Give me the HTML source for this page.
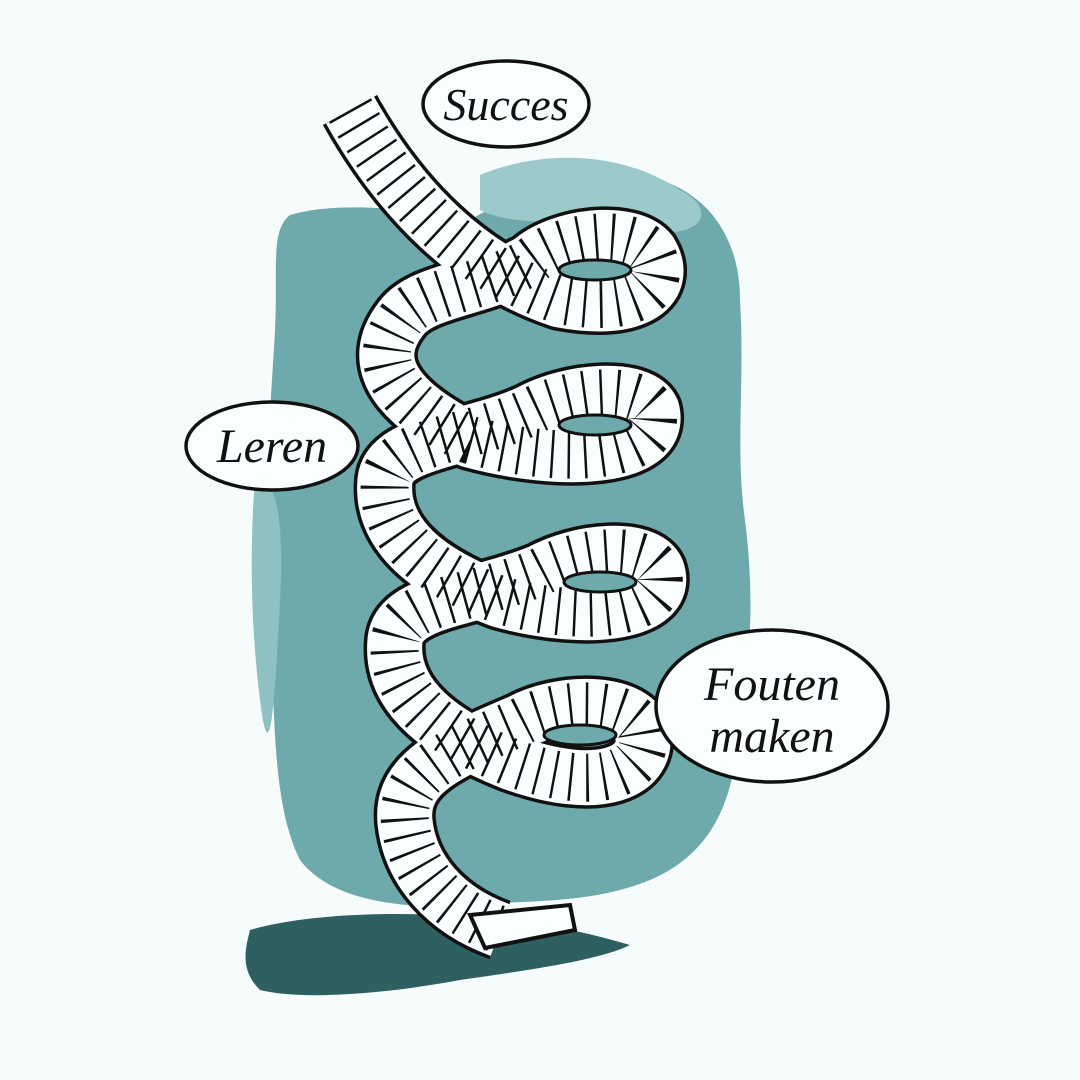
<!DOCTYPE html>
<html><head><meta charset="utf-8"><style>
html,body{margin:0;padding:0;background:#f6fbfb;}
svg{display:block}
text{font-family:"Liberation Serif",serif;font-style:italic;fill:#111;}
</style></head><body>
<svg width="1080" height="1080" viewBox="0 0 1080 1080" xmlns="http://www.w3.org/2000/svg">
<rect width="1080" height="1080" fill="#f6fbfb"/>
<path d="M290 215 C340 200 420 210 470 220 C520 190 580 160 640 175 C700 185 740 230 740 300 C745 380 735 450 745 520 C755 600 750 660 740 720 C735 790 720 850 650 880 C590 905 520 900 470 905 C400 910 330 900 300 860 C270 800 275 700 270 600 C262 500 270 420 275 330 C278 270 270 230 290 215 Z" fill="#6ea9ab"/>
<path d="M480 175 C540 150 620 150 680 190 C720 210 700 240 650 230 C580 215 520 230 480 210 Z" fill="#9cc9ca"/>
<path d="M255 480 C275 470 285 520 280 600 C275 700 270 780 260 700 C250 620 250 540 255 480 Z" fill="#8fc0c2"/>
<path d="M250 930 C300 915 380 912 440 915 C520 918 580 930 630 945 C600 960 530 970 460 980 C380 995 300 1000 260 990 C240 970 245 950 250 930 Z" fill="#2e6062"/>
<g fill="none" stroke-linejoin="round">
<path d="M350 110 C400 200 470 270 560 300 C640 315 670 285 650 252 C630 228 560 235 530 262 C480 290 420 290 400 320 C370 360 390 400 470 440 C560 465 665 460 652 410 C640 385 570 390 530 412 C470 440 390 440 385 480 C380 530 420 570 500 600 C590 625 672 612 657 570 C645 545 580 550 540 572 C470 600 400 600 395 640 C390 690 430 730 510 762 C600 795 652 772 642 730 C630 700 560 700 520 722 C450 752 400 772 405 822 C410 870 445 910 500 930" stroke="#111" stroke-width="62"/>
<path d="M350 110 C400 200 470 270 560 300 C640 315 670 285 650 252 C630 228 560 235 530 262 C480 290 420 290 400 320 C370 360 390 400 470 440 C560 465 665 460 652 410 C640 385 570 390 530 412 C470 440 390 440 385 480 C380 530 420 570 500 600 C590 625 672 612 657 570 C645 545 580 550 540 572 C470 600 400 600 395 640 C390 690 430 730 510 762 C600 795 652 772 642 730 C630 700 560 700 520 722 C450 752 400 772 405 822 C410 870 445 910 500 930" stroke="#fbfefe" stroke-width="55"/>
<path d="M350 110 C400 200 470 270 560 300 C640 315 670 285 650 252 C630 228 560 235 530 262 C480 290 420 290 400 320 C370 360 390 400 470 440 C560 465 665 460 652 410 C640 385 570 390 530 412 C470 440 390 440 385 480 C380 530 420 570 500 600 C590 625 672 612 657 570 C645 545 580 550 540 572 C470 600 400 600 395 640 C390 690 430 730 510 762 C600 795 652 772 642 730 C630 700 560 700 520 722 C450 752 400 772 405 822 C410 870 445 910 500 930" stroke="#111" stroke-width="48" stroke-dasharray="2.5 14"/>
</g>
<path d="M470 915 L570 905 L575 930 L485 948 Z" fill="#fbfefe" stroke="#111" stroke-width="4"/>
<ellipse cx="595" cy="270" rx="36" ry="10" fill="#6ea9ab" stroke="#111" stroke-width="3"/>
<ellipse cx="595" cy="425" rx="36" ry="10" fill="#6ea9ab" stroke="#111" stroke-width="3"/>
<ellipse cx="600" cy="582" rx="36" ry="10" fill="#6ea9ab" stroke="#111" stroke-width="3"/>
<ellipse cx="580" cy="735" rx="36" ry="10" fill="#6ea9ab" stroke="#111" stroke-width="3"/>
<ellipse cx="506" cy="104" rx="83" ry="43" fill="#fbfefe" stroke="#111" stroke-width="3.5"/>
<text x="506" y="120" font-size="46" text-anchor="middle">Succes</text>
<ellipse cx="272" cy="446" rx="86" ry="44" fill="#fbfefe" stroke="#111" stroke-width="3.5"/>
<text x="272" y="462" font-size="48" text-anchor="middle">Leren</text>
<ellipse cx="772" cy="706" rx="116" ry="76" fill="#fbfefe" stroke="#111" stroke-width="3.5"/>
<text x="772" y="700" font-size="48" text-anchor="middle">Fouten</text>
<text x="772" y="752" font-size="48" text-anchor="middle">maken</text>
</svg>
</body></html>
